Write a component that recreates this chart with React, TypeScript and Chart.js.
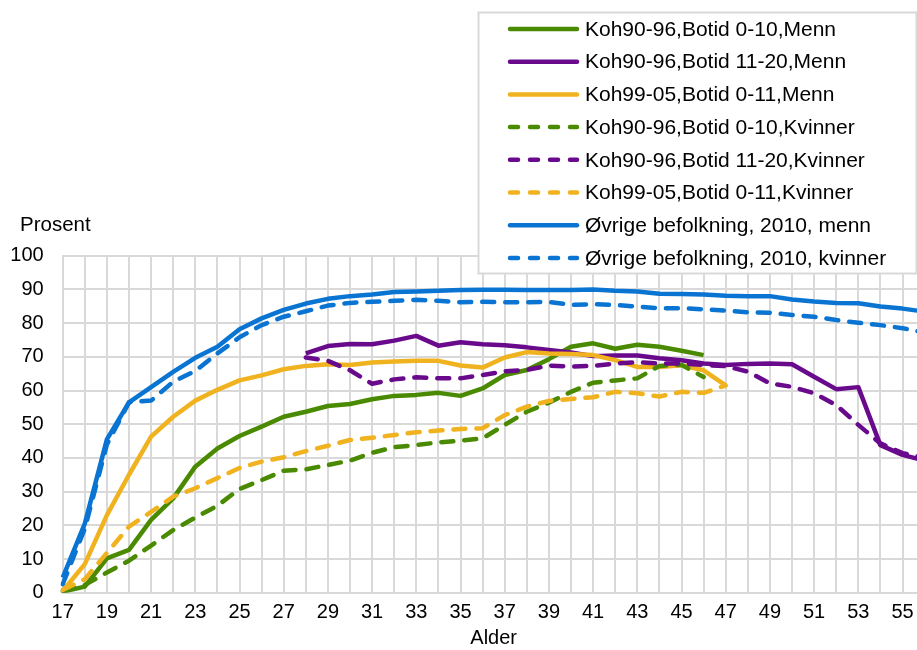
import React, { useEffect, useRef } from 'react';
import { Chart, registerables } from 'chart.js';

Chart.register(...registerables);

const ages = [17, 18, 19, 20, 21, 22, 23, 24, 25, 26, 27, 28, 29, 30, 31, 32, 33, 34, 35, 36, 37, 38, 39, 40, 41, 42, 43, 44, 45, 46, 47, 48, 49, 50, 51, 52, 53, 54, 55, 56];

const yTicks = [0, 10, 20, 30, 40, 50, 60, 70, 80, 90, 100];

const seriesNames = [
  'Koh90-96,Botid 0-10,Menn',
  'Koh90-96,Botid 11-20,Menn',
  'Koh99-05,Botid 0-11,Menn',
  'Koh90-96,Botid 0-10,Kvinner',
  'Koh90-96,Botid 11-20,Kvinner',
  'Koh99-05,Botid 0-11,Kvinner',
  'Øvrige befolkning, 2010, menn',
  'Øvrige befolkning, 2010, kvinner',
];

// ages 17..46
const koh9096Botid010Menn = [0.3, 1.8, 10.2, 12.7, 21.6, 28, 37.4, 42.8, 46.5, 49.3, 52.2, 53.7, 55.4, 56, 57.4, 58.4, 58.7, 59.3, 58.4, 60.6, 64.6, 66.1, 69.3, 73, 74, 72.4, 73.6, 73, 71.8, 70.5];
// ages 28..56
const koh9096Botid1120Menn = [71, 73.2, 73.8, 73.7, 74.8, 76.2, 73.3, 74.3, 73.7, 73.4, 72.8, 72, 71.3, 70.2, 70.4, 70.4, 69.6, 69, 68, 67.6, 67.9, 68, 67.8, 64.1, 60.4, 61, 43.8, 40.9, 39.2];
// ages 17..47
const koh9905Botid011Menn = [0.5, 8.5, 23, 35, 46.3, 52.2, 57, 60.2, 63, 64.5, 66.3, 67.3, 67.8, 67.6, 68.3, 68.6, 68.8, 68.8, 67.4, 66.8, 69.8, 71.4, 71, 70.8, 70.5, 69, 67, 67, 67.5, 66, 61.5];
// ages 17..46
const koh9096Botid010Kvinner = [0.5, 2.3, 6, 9.5, 14, 18.6, 22.3, 25.8, 30.8, 33.4, 36.2, 36.6, 37.9, 39.2, 41.5, 43.2, 43.8, 44.6, 45.1, 45.8, 49.8, 53.7, 56.4, 59.6, 62.3, 63, 63.6, 67.3, 67.6, 64];
// ages 28..56
const koh9096Botid1120Kvinner = [69.8, 68.8, 66, 62, 63.3, 63.9, 63.6, 63.6, 64.6, 65.7, 66.1, 67.4, 67.1, 67.3, 68, 68.4, 68, 68, 67.6, 67.2, 65.6, 62.1, 61.1, 59.2, 55.7, 49.8, 44.3, 41.4, 40];
// ages 17..47
const koh9905Botid011Kvinner = [0.8, 4, 11.8, 19.6, 24, 28.5, 31, 34, 37, 38.9, 40.2, 42, 43.6, 45.3, 46, 46.8, 47.6, 48.1, 48.6, 48.8, 52.7, 55.2, 56.9, 57.5, 58, 59.6, 59.2, 58.2, 59.6, 59.3, 61.5];
// ages 17..56
const ovrigeMenn = [4.5, 20.5, 45.5, 56.5, 61, 65.5, 69.7, 73, 78.2, 81.4, 83.9, 85.8, 87.2, 88, 88.5, 89.2, 89.4, 89.6, 89.8, 89.9, 89.9, 89.8, 89.8, 89.8, 90, 89.6, 89.4, 88.7, 88.6, 88.5, 88.1, 88, 88, 87, 86.4, 86, 85.9, 84.9, 84.3, 83.4];
const ovrigeKvinner = [2.5, 19, 44, 56.5, 57, 62.6, 65.8, 71, 75.8, 79.4, 81.9, 83.5, 85.2, 86, 86.3, 86.6, 86.9, 86.6, 86.2, 86.3, 86.2, 86.2, 86.3, 85.4, 85.6, 85.4, 84.9, 84.4, 84.4, 84.1, 83.7, 83.2, 83.1, 82.4, 81.9, 80.9, 80.1, 79.4, 78.5, 77.2];

const GREEN = '#4A8A00';
const PURPLE = '#690A8C';
const YELLOW = '#F0B21E';
const BLUE = '#0A74D2';
const FONT = '"Liberation Sans", Arial, sans-serif';

function place(values: number[], startAge: number): (number | null)[] {
  return ages.map((a) => {
    const i = a - startAge;
    return i >= 0 && i < values.length ? values[i] : null;
  });
}

const seriesDefs = [
  { data: place(koh9096Botid010Menn, 17), color: GREEN, dashed: false },
  { data: place(koh9096Botid1120Menn, 28), color: PURPLE, dashed: false },
  { data: place(koh9905Botid011Menn, 17), color: YELLOW, dashed: false },
  { data: place(koh9096Botid010Kvinner, 17), color: GREEN, dashed: true },
  { data: place(koh9096Botid1120Kvinner, 28), color: PURPLE, dashed: true },
  { data: place(koh9905Botid011Kvinner, 17), color: YELLOW, dashed: true },
  { data: place(ovrigeMenn, 17), color: BLUE, dashed: false },
  { data: place(ovrigeKvinner, 17), color: BLUE, dashed: true },
];

const overlayPlugin = {
  id: 'overlay',
  afterDraw(chart: any) {
    const ctx = chart.ctx as CanvasRenderingContext2D;
    ctx.save();
    ctx.fillStyle = '#000';
    ctx.font = `20.5px ${FONT}`;
    ctx.textAlign = 'left';
    ctx.textBaseline = 'alphabetic';
    ctx.fillText('Prosent', 20, 230.7);

    const bx = 478.5, by = 12.5, bw = 438, bh = 261;
    ctx.fillStyle = '#fff';
    ctx.fillRect(bx, by, bw, bh);
    ctx.strokeStyle = '#d9d9d9';
    ctx.lineWidth = 2;
    ctx.strokeRect(bx, by, bw, bh);

    ctx.font = `21px ${FONT}`;
    ctx.textBaseline = 'middle';
    seriesDefs.forEach((s, i) => {
      const y = 29 + i * 32.7;
      ctx.beginPath();
      ctx.strokeStyle = s.color;
      ctx.lineWidth = 4.5;
      ctx.lineCap = 'round';
      ctx.setLineDash(s.dashed ? [8, 12] : []);
      ctx.moveTo(510, y);
      ctx.lineTo(577, y);
      ctx.stroke();
      ctx.setLineDash([]);
      ctx.fillStyle = '#000';
      ctx.fillText(seriesNames[i], 585, y + 1);
    });
    ctx.restore();
  },
};

export default function App() {
  const ref = useRef<HTMLCanvasElement>(null);
  useEffect(() => {
    const canvas = ref.current;
    if (!canvas) return;
    Chart.defaults.font.family = FONT;
    const chart = new Chart(canvas, {
      type: 'line',
      data: {
        labels: ages.map(String),
        datasets: seriesDefs.map((s, i) => ({
          label: seriesNames[i],
          data: s.data,
          borderColor: s.color,
          backgroundColor: s.color,
          borderWidth: 4.5,
          borderDash: s.dashed ? [12, 11] : [],
          borderCapStyle: s.dashed ? 'round' : 'butt',
          borderJoinStyle: 'round',
          pointRadius: 0,
          tension: 0,
          fill: false,
          spanGaps: false,
          order: -i,
        })),
      },
      options: {
        animation: false,
        responsive: false,
        devicePixelRatio: 1,
        layout: { padding: { left: 0, top: 255.7, right: 960 - 924.6, bottom: 0 } },
        plugins: { legend: { display: false }, tooltip: { enabled: false } },
        scales: {
          x: {
            type: 'category',
            offset: false,
            grid: { color: '#d9d9d9', lineWidth: 2, drawTicks: false, offset: false },
            border: { color: '#d9d9d9', width: 2 },
            ticks: {
              autoSkip: false,
              maxRotation: 0,
              minRotation: 0,
              padding: 8,
              color: '#000',
              font: { size: 20, family: FONT },
              callback: (_v: any, idx: number) => (ages[idx] % 2 === 1 ? String(ages[idx]) : ''),
            },
            title: { display: true, text: 'Alder', color: '#000', font: { size: 20, family: FONT }, padding: 0 },
            afterFit: (s: any) => { s.height = 650 - 592.7; },
          },
          y: {
            min: 0,
            max: 100,
            afterBuildTicks: (s: any) => { s.ticks = yTicks.map((v) => ({ value: v })); },
            grid: { color: '#d9d9d9', lineWidth: 2, drawTicks: false },
            border: { color: '#d9d9d9', width: 2 },
            ticks: { padding: 19, color: '#000', font: { size: 20, family: FONT } },
            afterFit: (s: any) => { s.width = 62.7; },
          },
        },
      },
      plugins: [overlayPlugin],
    } as any);
    return () => chart.destroy();
  }, []);
  return (
    <div style={{ position: 'fixed', left: 0, top: 0, width: 917, height: 650, overflow: 'hidden', background: '#fff' }}>
      <canvas ref={ref} width={960} height={650} style={{ display: 'block', width: 960, height: 650 }} />
    </div>
  );
}
